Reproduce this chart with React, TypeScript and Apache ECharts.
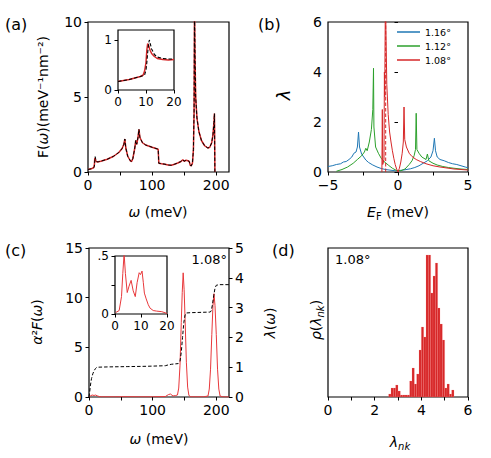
import { useEffect, useRef } from 'react';
import * as echarts from 'echarts';

// ---------- (a) phonon DOS F(omega) ----------
const omegaA = [0, 5, 9, 10, 10.6, 11.2, 12, 13, 14, 16, 20, 30, 40, 48, 53, 56, 57.5, 59, 62, 66, 68, 70, 73, 74.5, 76, 78, 79.5, 81, 85, 90, 100, 109.5, 110.5, 115, 120, 125, 130, 135, 140, 145, 148, 150, 153, 156, 158, 159.5, 161, 163, 164.5, 165.5, 166.2, 167, 168, 170, 173, 177, 182, 187, 190, 193, 195, 196.5, 197.3, 198];
const fRed = [0.17, 0.21, 0.3, 0.5, 0.93, 0.88, 0.78, 0.7, 0.67, 0.68, 0.72, 0.85, 1.05, 1.3, 1.55, 1.85, 2.2, 1.6, 1.05, 0.75, 0.7, 0.9, 1.6, 2.1, 1.85, 2.3, 2.85, 2.3, 1.95, 1.8, 1.65, 1.52, 0.58, 0.55, 0.52, 0.47, 0.45, 0.52, 0.6, 0.7, 0.82, 0.72, 0.78, 0.75, 0.7, 0.45, 0.4, 0.6, 1.5, 4, 11, 7.5, 5, 3.6, 2.7, 2.1, 1.75, 1.6, 1.65, 1.95, 2.5, 3.3, 3.9, 0];
const fBlack = [0.17, 0.21, 0.29, 0.38, 0.75, 1.02, 0.86, 0.74, 0.68, 0.68, 0.72, 0.85, 1.05, 1.3, 1.55, 1.85, 2.2, 1.6, 1.05, 0.75, 0.7, 0.9, 1.6, 2.1, 1.85, 2.3, 2.85, 2.3, 1.95, 1.8, 1.65, 1.52, 0.58, 0.55, 0.52, 0.47, 0.45, 0.52, 0.6, 0.7, 0.82, 0.72, 0.78, 0.75, 0.7, 0.45, 0.4, 0.6, 1.5, 4, 11, 7.5, 5, 3.6, 2.7, 2.1, 1.75, 1.6, 1.65, 1.95, 2.5, 3.3, 3.9, 0];

// (a) inset
const omegaInsetA = [0, 2, 4, 6, 8, 9, 9.5, 10, 10.3, 10.6, 11, 11.2, 11.5, 12, 13, 14, 16, 18, 20];
const fInsetRed = [0.17, 0.19, 0.21, 0.24, 0.27, 0.3, 0.38, 0.55, 0.8, 0.93, 0.88, 0.84, 0.79, 0.73, 0.67, 0.63, 0.61, 0.6, 0.61];
const fInsetBlack = [0.17, 0.19, 0.21, 0.24, 0.27, 0.29, 0.3, 0.4, 0.55, 0.75, 0.95, 1.0, 0.93, 0.82, 0.71, 0.66, 0.63, 0.62, 0.62];

// ---------- (b) lambda vs E_F ----------
const efBlue = [-5, -4.7, -4.4, -4.1, -3.9, -3.7, -3.5, -3.3, -3.15, -3, -2.9, -2.82, -2.75, -2.6, -2.45, -2.3, -2.1, -1.8, -1.5, -1.2, -0.9, -0.5, -0.2, 0.1, 0.5, 0.9, 1.2, 1.5, 1.8, 2.1, 2.35, 2.5, 2.6, 2.68, 2.8, 3, 3.3, 3.6, 3.9, 4.2, 4.5, 4.8, 5];
const lamBlue = [0.22, 0.25, 0.3, 0.33, 0.4, 0.42, 0.5, 0.6, 0.75, 0.8, 1.0, 1.6, 1.0, 0.72, 0.6, 0.48, 0.38, 0.28, 0.2, 0.14, 0.1, 0.07, 0.05, 0.06, 0.09, 0.13, 0.18, 0.25, 0.35, 0.45, 0.6, 0.85, 1.35, 0.85, 0.6, 0.5, 0.45, 0.38, 0.33, 0.3, 0.25, 0.2, 0.17];
const efGreen = [-4.4, -4, -3.6, -3.2, -2.9, -2.6, -2.4, -2.3, -2.2, -2.05, -1.9, -1.8, -1.75, -1.72, -1.6, -1.4, -1.2, -1, -0.7, -0.4, -0.1, 0.2, 0.5, 0.8, 1, 1.15, 1.25, 1.3, 1.35, 1.5, 1.7, 2, 2.1, 2.2, 2.5, 2.8, 3.2, 3.6, 4, 4.5, 5];
const lamGreen = [0.03, 0.1, 0.2, 0.35, 0.5, 0.65, 0.8, 0.95, 0.85, 1.2, 1.7, 2.5, 4.15, 1.8, 1.0, 0.75, 0.55, 0.42, 0.28, 0.15, 0.06, 0.05, 0.12, 0.3, 0.45, 0.65, 0.9, 2.35, 0.9, 0.75, 0.6, 0.5, 0.72, 0.45, 0.35, 0.28, 0.22, 0.18, 0.15, 0.12, 0.1];
const efRed = [-1.15, -1.12, -1.09, -1.0, -0.97, -0.95, -0.9, -0.85, -0.8, -0.7, -0.6, -0.5, -0.4, -0.3, -0.2, -0.1, 0, 0.1, 0.2, 0.3, 0.38, 0.43, 0.48, 0.6, 0.8, 1, 1.3, 1.6, 2, 2.5, 3, 3.5, 4, 4.5, 5];
const lamRed = [0, 2.5, 0.3, 0.5, 4.0, 3.0, 7, 7, 3.5, 2.3, 1.6, 1.2, 0.85, 0.55, 0.3, 0.12, 0, 0.15, 0.4, 0.75, 1.2, 2.6, 1.3, 1.0, 0.75, 0.62, 0.5, 0.42, 0.33, 0.25, 0.2, 0.16, 0.12, 0.1, 0.08];
const efVan = -0.88;
const twistNames = ['1.16°', '1.12°', '1.08°'];

// ---------- (c) Eliashberg function and lambda(omega) ----------
const omegaC = [0, 2, 5, 8, 10, 13, 16, 20, 40, 60, 80, 100, 120, 125, 128, 132, 136, 139, 141, 143, 145, 146.5, 148, 149.5, 151, 153, 155, 157, 160, 170, 180, 187, 189, 191, 193, 194.8, 196.4, 198, 200, 202, 204, 206, 210, 220];
const a2F = [0, 0.1, 0.2, 0.15, 0.2, 0.12, 0.05, 0.02, 0.02, 0.03, 0.02, 0.02, 0.05, 0.25, 0.3, 0.1, 0.15, 0.2, 0.9, 3.2, 7.5, 10.5, 12.5, 10.8, 7.8, 3.5, 1.0, 0.15, 0.02, 0.02, 0.02, 0.1, 0.8, 2.8, 6.3, 9.2, 10.4, 9.2, 6.3, 2.8, 0.8, 0.1, 0.02, 0];
const omegaLam = [0, 1, 2, 3, 4, 6, 8, 10, 12, 14, 30, 60, 90, 120, 125, 130, 135, 140, 143, 145, 147, 149, 151, 153, 160, 190, 192, 194, 196, 198, 200, 205, 220];
const lamOmega = [0, 0.15, 0.35, 0.5, 0.62, 0.78, 0.88, 0.95, 0.99, 1.0, 1.01, 1.02, 1.03, 1.05, 1.08, 1.1, 1.11, 1.12, 1.2, 1.5, 2.0, 2.5, 2.75, 2.82, 2.83, 2.85, 2.88, 3.1, 3.4, 3.65, 3.75, 3.77, 3.77];
const omegaInsetC = [0.3, 1.6, 2.5, 3.0, 3.5, 4.0, 4.7, 5.4, 6.2, 7.0, 7.8, 8.5, 9.3, 9.8, 10.4, 10.9, 11.3, 12.0, 12.8, 13.5, 14.7, 16, 18, 20];
const a2FInset = [0.013, 0.03, 0.15, 0.35, 0.52, 0.35, 0.185, 0.24, 0.29, 0.2, 0.15, 0.27, 0.356, 0.34, 0.37, 0.27, 0.18, 0.13, 0.08, 0.05, 0.03, 0.025, 0.02, 0.005];

// ---------- (d) histogram of lambda_nk ----------
const lambdaEdges = [2.6, 2.7, 2.8, 2.9, 3.0, 3.1, 3.2, 3.3, 3.4, 3.5, 3.6, 3.7, 3.8, 3.9, 4.0, 4.1, 4.2, 4.3, 4.4, 4.5, 4.6, 4.7, 4.8, 4.9, 5.0, 5.1, 5.2, 5.3, 5.4];
const lambdaCounts = [3, 9, 9, 12, 6, 2, 2, 2, 2, 16, 29, 13, 23, 47, 70, 60, 142, 142, 104, 121, 134, 89, 73, 57, 9, 13, 3, 7];

// tick values
const omegaTicks = [0, 50, 100, 150, 200];
const omegaLabels = [0, 100, 200];
const efTicks = [-5, -2.5, 0, 2.5, 5];
const efLabels = [-5, 0, 5];

const FONT = 'DejaVu Sans';
const RED = '#d62728';
const RED_C = '#e8383b';

const zip = (xs: number[], ys: number[]) => xs.map((x, i) => [x, ys[i]]);

function axis(gridIndex: number, min: number, max: number, ticks: number[] | null, labels: number[] | null, fontSize: number, extra: any = {}) {
  return {
    type: 'value',
    gridIndex,
    min,
    max,
    axisLine: { show: false },
    splitLine: { show: false },
    axisTick: ticks
      ? { show: true, inside: false, length: 3.5, lineStyle: { color: '#000', width: 1 }, customValues: ticks }
      : { show: false },
    axisLabel: labels
      ? { show: true, customValues: labels, color: '#000', fontSize, fontFamily: FONT, margin: 6, ...(extra.formatter ? { formatter: extra.formatter } : {}) }
      : { show: false },
    ...(extra.position ? { position: extra.position } : {}),
  };
}

const minus = (v: number) => (v < 0 ? '\u2212' + Math.abs(v) : String(v));

function txt(x: number, y: number, text: string, fontSize: number, opts: any = {}) {
  const align = opts.align || 'center';
  return {
    type: 'text',
    x,
    y,
    rotation: opts.rot || 0,
    silent: true,
    style: {
      text,
      fontSize,
      fontFamily: FONT,
      fill: '#000',
      align,
      textAlign: align,
      verticalAlign: 'middle',
      textVerticalAlign: 'middle',
      rich: opts.rich,
    },
  };
}

function richFor(size: number) {
  return {
    r: { fontSize: size, fontFamily: FONT, lineHeight: size + 2 },
    i: { fontSize: size, fontFamily: FONT, fontStyle: 'italic', lineHeight: size + 2 },
    s: { fontSize: Math.round(size * 0.7), fontFamily: FONT, fontStyle: 'italic', lineHeight: Math.round(size * 0.7), padding: [Math.round(size * 0.55), 0, 0, 0] },
    su: { fontSize: Math.round(size * 0.7), fontFamily: FONT, fontStyle: 'normal', lineHeight: Math.round(size * 0.7), padding: [Math.round(size * 0.55), 0, 0, 0] },
  };
}

const lineSeries = (name: string, x: number, y: number, data: number[][], color: string, width: number, dashed: boolean, z = 2) => ({
  name,
  type: 'line',
  xAxisIndex: x,
  yAxisIndex: y,
  data,
  showSymbol: false,
  symbol: 'none',
  clip: true,
  z,
  lineStyle: { color, width, type: dashed ? [3.5, 2] : 'solid' },
  itemStyle: { color },
});

export default function App() {
  const ref = useRef<HTMLDivElement>(null);
  useEffect(() => {
    const chart = echarts.init(ref.current!, null, { renderer: 'svg' });
    const gridStyle = { show: true, borderColor: '#000', borderWidth: 1.2, backgroundColor: 'transparent' };
    const insetStyle = { show: true, borderColor: '#000', borderWidth: 1.2, backgroundColor: '#fff' };
    const histData = lambdaCounts.map((c, i) => [lambdaEdges[i], lambdaEdges[i + 1], c]);
    const option: any = {
      animation: false,
      backgroundColor: '#fff',
      textStyle: { fontFamily: FONT },
      grid: [
        { left: 88, top: 22, width: 141, height: 150, ...gridStyle },
        { left: 118, top: 30, width: 56, height: 60, ...insetStyle, z: 5 },
        { left: 328, top: 22, width: 140, height: 150, ...gridStyle },
        { left: 89, top: 248, width: 140, height: 149, ...gridStyle },
        { left: 115, top: 256, width: 52, height: 58, ...insetStyle, z: 5 },
        { left: 328, top: 248, width: 140, height: 149, ...gridStyle },
      ],
      xAxis: [
        axis(0, 0, 220, omegaTicks, omegaLabels, 14),
        axis(1, 0, 20, [0, 10, 20], [0, 10, 20], 12),
        axis(2, -5, 5, efTicks, efLabels, 14, { formatter: minus }),
        axis(3, 0, 220, omegaTicks, omegaLabels, 14),
        axis(4, 0, 20, [0, 10, 20], [0, 10, 20], 12),
        axis(5, 0, 6, [0, 1, 2, 3, 4, 5, 6], [0, 2, 4, 6], 14),
      ],
      yAxis: [
        axis(0, 0, 10, [0, 5, 10], [0, 5, 10], 14),
        axis(1, 0, 1.2, [0, 1], [0, 1], 12),
        axis(2, 0, 6, [0, 2, 4, 6], [0, 2, 4, 6], 14),
        axis(3, 0, 15, [0, 5, 10, 15], [0, 5, 10, 15], 14),
        axis(3, 0, 5, [0, 1, 2, 3, 4, 5], [0, 1, 2, 3, 4, 5], 14, { position: 'right' }),
        axis(4, 0, 0.5, [0, 0.25, 0.5], [0, 0.5], 12, { formatter: (v: number) => (v === 0.5 ? '.5' : String(v)) }),
        axis(5, 0, 149, null, null, 14),
      ],
      legend: {
        data: twistNames,
        orient: 'vertical',
        left: 397,
        top: 27,
        padding: 0,
        itemWidth: 23,
        itemHeight: 1.5,
        itemGap: 4,
        icon: 'rect',
        selectedMode: false,
        textStyle: { fontSize: 9.5, fontFamily: FONT, color: '#000' },
      },
      series: [
        lineSeries('F red', 0, 0, zip(omegaA, fRed), RED, 1.5, false),
        lineSeries('F black', 0, 0, zip(omegaA, fBlack), '#000', 1, true, 3),
        lineSeries('F inset red', 1, 1, zip(omegaInsetA, fInsetRed), RED, 1.5, false, 6),
        lineSeries('F inset black', 1, 1, zip(omegaInsetA, fInsetBlack), '#000', 1.1, true, 7),
        lineSeries(twistNames[0], 2, 2, zip(efBlue, lamBlue), '#1f77b4', 1, false),
        lineSeries(twistNames[1], 2, 2, zip(efGreen, lamGreen), '#2ca02c', 1, false),
        lineSeries(twistNames[2], 2, 2, zip(efRed, lamRed), RED, 1, false),
        lineSeries('vHs', 2, 2, [[efVan, 0], [efVan, 6]], RED, 1, true),
        lineSeries('a2F', 3, 3, zip(omegaC, a2F), RED_C, 1, false),
        lineSeries('lambda omega', 3, 4, zip(omegaLam, lamOmega), '#000', 1, true, 3),
        lineSeries('a2F inset', 4, 5, zip(omegaInsetC, a2FInset), RED_C, 1, false, 6),
        {
          name: 'hist',
          type: 'custom',
          xAxisIndex: 5,
          yAxisIndex: 6,
          data: histData,
          encode: { x: [0, 1], y: 2 },
          renderItem: (params: any, api: any) => {
            const p0 = api.coord([api.value(0), api.value(2)]);
            const p1 = api.coord([api.value(1), 0]);
            return {
              type: 'rect',
              shape: { x: p0[0], y: p0[1], width: p1[0] - p0[0], height: p1[1] - p0[1] },
              style: { fill: RED, stroke: 'rgba(255,140,140,0.5)', lineWidth: 0.4 },
            };
          },
        },
      ],
      graphic: [
        txt(5, 24, '(a)', 16, { align: 'left' }),
        txt(258, 24, '(b)', 16, { align: 'left' }),
        txt(5, 250, '(c)', 16, { align: 'left' }),
        txt(272, 250, '(d)', 16, { align: 'left' }),
        txt(43, 97, '{r|F(}{i|ω}{r|)(meV⁻¹nm⁻²)}', 14, { rot: Math.PI / 2, rich: richFor(14) }),
        txt(158, 212, '{i|ω}{r| (meV)}', 14, { rich: richFor(14) }),
        txt(283, 95, '{i|λ}', 18, { rot: Math.PI / 2, rich: richFor(18) }),
        txt(398, 212, '{i|E}{su|F}{r| (meV)}', 14, { rich: richFor(14) }),
        txt(37, 322, '{i|α}{r|²}{i|F}{r|(}{i|ω}{r|)}', 14, { rot: Math.PI / 2, rich: richFor(14) }),
        txt(270, 323, '{i|λ}{r|(}{i|ω}{r|)}', 14, { rot: Math.PI / 2, rich: richFor(14) }),
        txt(159, 439, '{i|ω}{r| (meV)}', 14, { rich: richFor(14) }),
        txt(316, 320, '{i|ρ}{r|(}{i|λ}{s|nk}{r|)}', 14, { rot: Math.PI / 2, rich: richFor(14) }),
        txt(400, 442, '{i|λ}{s|nk}', 14, { rich: richFor(14) }),
        txt(227, 259, '1.08°', 13, { align: 'right' }),
        txt(335, 259, '1.08°', 13, { align: 'left' }),
      ],
    };
    chart.setOption(option);
    return () => chart.dispose();
  }, []);
  return <div ref={ref} style={{ position: 'absolute', left: 0, top: 0, width: 491, height: 458 }} />;
}
